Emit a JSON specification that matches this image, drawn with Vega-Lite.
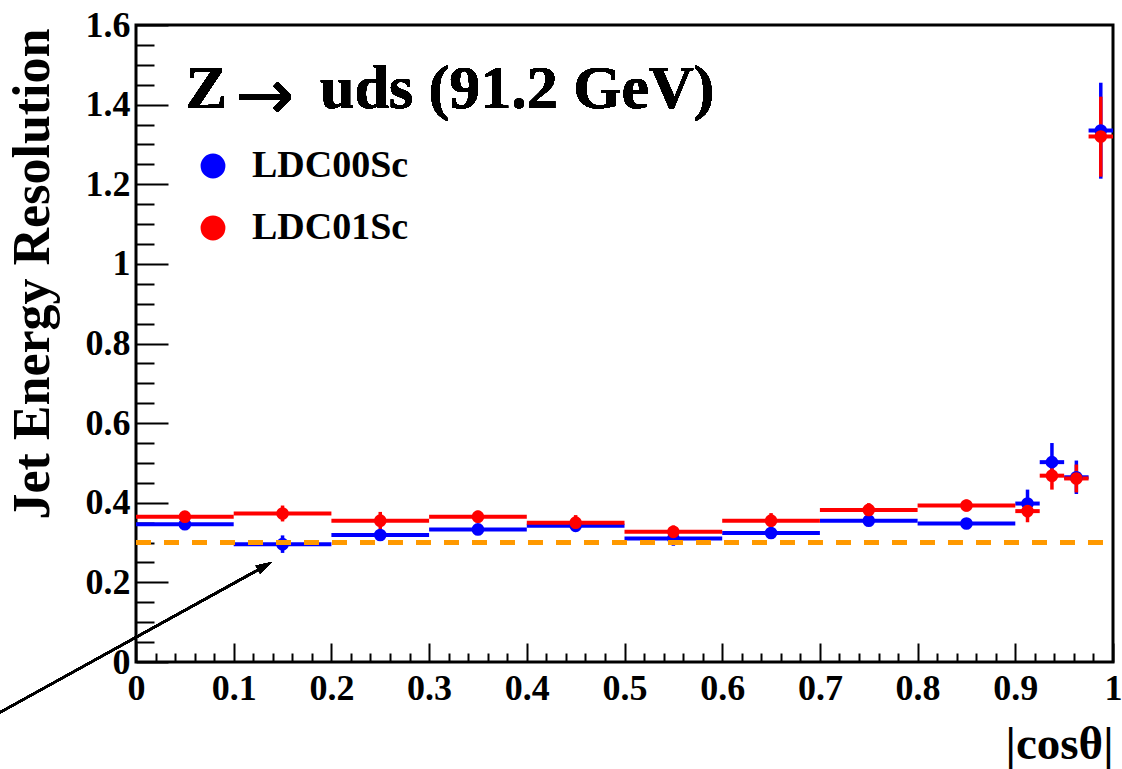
{
  "$schema": "https://vega.github.io/schema/vega-lite/v6.json",
  "width": 977,
  "height": 637,
  "autosize": "none",
  "padding": {"left": 136, "top": 25, "right": 9, "bottom": 107},
  "background": "white",
  "config": {
    "view": {"stroke": "black", "strokeWidth": 3},
    "font": "Liberation Serif",
    "legend": {"orient": "none", "legendX": 58, "legendY": 122, "title": null, "padding": 0, "symbolType": "circle", "symbolSize": 616, "symbolStrokeWidth": 0, "symbolOpacity": 1,
      "labelFont": "Liberation Serif", "labelFontWeight": "bold", "labelFontSize": 38, "labelColor": "black", "labelOffset": 20, "rowPadding": 24, "labelLimit": 400}
  },
  "data": {
    "values": [
      {"s": "LDC00Sc", "xc": 0.05, "xlo": 0.0, "xhi": 0.1, "y": 0.346, "ylo": 0.336, "yhi": 0.356},
      {"s": "LDC00Sc", "xc": 0.15, "xlo": 0.1, "xhi": 0.2, "y": 0.296, "ylo": 0.274, "yhi": 0.318},
      {"s": "LDC00Sc", "xc": 0.25, "xlo": 0.2, "xhi": 0.3, "y": 0.319, "ylo": 0.306, "yhi": 0.332},
      {"s": "LDC00Sc", "xc": 0.35, "xlo": 0.3, "xhi": 0.4, "y": 0.333, "ylo": 0.32, "yhi": 0.346},
      {"s": "LDC00Sc", "xc": 0.45, "xlo": 0.4, "xhi": 0.5, "y": 0.342, "ylo": 0.33, "yhi": 0.354},
      {"s": "LDC00Sc", "xc": 0.55, "xlo": 0.5, "xhi": 0.6, "y": 0.31, "ylo": 0.292, "yhi": 0.328},
      {"s": "LDC00Sc", "xc": 0.65, "xlo": 0.6, "xhi": 0.7, "y": 0.324, "ylo": 0.312, "yhi": 0.336},
      {"s": "LDC00Sc", "xc": 0.75, "xlo": 0.7, "xhi": 0.8, "y": 0.355, "ylo": 0.343, "yhi": 0.367},
      {"s": "LDC00Sc", "xc": 0.85, "xlo": 0.8, "xhi": 0.9, "y": 0.348, "ylo": 0.336, "yhi": 0.36},
      {"s": "LDC00Sc", "xc": 0.9125, "xlo": 0.9, "xhi": 0.925, "y": 0.398, "ylo": 0.363, "yhi": 0.433},
      {"s": "LDC00Sc", "xc": 0.9375, "xlo": 0.925, "xhi": 0.95, "y": 0.502, "ylo": 0.454, "yhi": 0.55},
      {"s": "LDC00Sc", "xc": 0.9625, "xlo": 0.95, "xhi": 0.975, "y": 0.464, "ylo": 0.422, "yhi": 0.506},
      {"s": "LDC00Sc", "xc": 0.9875, "xlo": 0.975, "xhi": 1.0, "y": 1.335, "ylo": 1.214, "yhi": 1.455},
      {"s": "LDC01Sc", "xc": 0.05, "xlo": 0.0, "xhi": 0.1, "y": 0.365, "ylo": 0.352, "yhi": 0.378},
      {"s": "LDC01Sc", "xc": 0.15, "xlo": 0.1, "xhi": 0.2, "y": 0.373, "ylo": 0.353, "yhi": 0.393},
      {"s": "LDC01Sc", "xc": 0.25, "xlo": 0.2, "xhi": 0.3, "y": 0.355, "ylo": 0.333, "yhi": 0.377},
      {"s": "LDC01Sc", "xc": 0.35, "xlo": 0.3, "xhi": 0.4, "y": 0.365, "ylo": 0.35, "yhi": 0.38},
      {"s": "LDC01Sc", "xc": 0.45, "xlo": 0.4, "xhi": 0.5, "y": 0.35, "ylo": 0.331, "yhi": 0.369},
      {"s": "LDC01Sc", "xc": 0.55, "xlo": 0.5, "xhi": 0.6, "y": 0.327, "ylo": 0.311, "yhi": 0.343},
      {"s": "LDC01Sc", "xc": 0.65, "xlo": 0.6, "xhi": 0.7, "y": 0.355, "ylo": 0.336, "yhi": 0.374},
      {"s": "LDC01Sc", "xc": 0.75, "xlo": 0.7, "xhi": 0.8, "y": 0.382, "ylo": 0.365, "yhi": 0.399},
      {"s": "LDC01Sc", "xc": 0.85, "xlo": 0.8, "xhi": 0.9, "y": 0.393, "ylo": 0.378, "yhi": 0.408},
      {"s": "LDC01Sc", "xc": 0.9125, "xlo": 0.9, "xhi": 0.925, "y": 0.379, "ylo": 0.351, "yhi": 0.407},
      {"s": "LDC01Sc", "xc": 0.9375, "xlo": 0.925, "xhi": 0.95, "y": 0.468, "ylo": 0.433, "yhi": 0.503},
      {"s": "LDC01Sc", "xc": 0.9625, "xlo": 0.95, "xhi": 0.975, "y": 0.461, "ylo": 0.426, "yhi": 0.496},
      {"s": "LDC01Sc", "xc": 0.9875, "xlo": 0.975, "xhi": 1.0, "y": 1.32, "ylo": 1.219, "yhi": 1.42}
    ]
  },
  "resolve": {"axis": {"x": "independent", "y": "independent"}},
  "layer": [
    {
      "mark": {"type": "rule", "strokeWidth": 4},
      "encoding": {
        "x": {"field": "xlo", "type": "quantitative", "scale": {"domain": [0, 1], "nice": false, "zero": false},
          "axis": {"orient": "bottom", "values": [0, 0.1, 0.2, 0.3, 0.4, 0.5, 0.6, 0.7, 0.8, 0.9, 1], "format": "~f", "ticks": false, "domain": false, "grid": false,
            "labelPadding": 9, "labelFont": "Liberation Serif", "labelFontWeight": "bold", "labelFontSize": 36, "labelColor": "black", "labelFlush": false, "labelOverlap": false,
            "title": "|cosθ|", "titleFont": "Liberation Serif", "titleFontWeight": "bold", "titleFontSize": 47, "titleColor": "black", "titleX": 977, "titleY": 96, "titleAlign": "right", "titleBaseline": "alphabetic", "titleAnchor": "end"}},
        "x2": {"field": "xhi"},
        "y": {"field": "y", "type": "quantitative", "scale": {"domain": [0, 1.6], "nice": false, "zero": false},
          "axis": {"orient": "left", "values": [0, 0.2, 0.4, 0.6, 0.8, 1, 1.2, 1.4, 1.6], "format": "~f", "ticks": false, "domain": false, "grid": false,
            "labelPadding": 6, "labelFont": "Liberation Serif", "labelFontWeight": "bold", "labelFontSize": 36, "labelColor": "black", "labelFlush": false, "labelOverlap": false,
            "title": "Jet Energy Resolution", "titleFont": "Liberation Serif", "titleFontWeight": "bold", "titleFontSize": 52, "titleColor": "black", "titleAngle": -90, "titleX": -88, "titleY": 3, "titleAlign": "right", "titleBaseline": "alphabetic", "titleAnchor": "end"}},
        "color": {"field": "s", "type": "nominal", "scale": {"domain": ["LDC00Sc", "LDC01Sc"], "range": ["#0000ff", "#ff0000"]}}
      }
    },
    {
      "mark": {"type": "rule", "strokeWidth": 3.5},
      "encoding": {
        "x": {"field": "xc", "type": "quantitative", "scale": {"domain": [0, 1], "nice": false, "zero": false},
          "axis": {"orient": "bottom", "values": [0, 0.1, 0.2, 0.3, 0.4, 0.5, 0.6, 0.7, 0.8, 0.9, 1], "labels": false, "domain": false, "grid": false, "ticks": true, "tickSize": -19, "tickWidth": 2, "tickColor": "black", "title": null}},
        "y": {"field": "ylo", "type": "quantitative", "scale": {"domain": [0, 1.6], "nice": false, "zero": false},
          "axis": {"orient": "left", "values": [0, 0.2, 0.4, 0.6, 0.8, 1, 1.2, 1.4, 1.6], "labels": false, "domain": false, "grid": false, "ticks": true, "tickSize": -32, "tickWidth": 2, "tickColor": "black", "title": null}},
        "y2": {"field": "yhi"},
        "color": {"field": "s", "type": "nominal", "scale": {"domain": ["LDC00Sc", "LDC01Sc"], "range": ["#0000ff", "#ff0000"]}}
      }
    },
    {
      "mark": {"type": "point", "shape": "circle", "filled": true, "size": 160, "opacity": 1},
      "encoding": {
        "x": {"field": "xc", "type": "quantitative", "scale": {"domain": [0, 1], "nice": false, "zero": false},
          "axis": {"orient": "bottom", "values": [0.02, 0.04, 0.06, 0.08, 0.12, 0.14, 0.16, 0.18, 0.22, 0.24, 0.26, 0.28, 0.32, 0.34, 0.36, 0.38, 0.42, 0.44, 0.46, 0.48, 0.52, 0.54, 0.56, 0.58, 0.62, 0.64, 0.66, 0.68, 0.72, 0.74, 0.76, 0.78, 0.82, 0.84, 0.86, 0.88, 0.92, 0.94, 0.96, 0.98], "labels": false, "domain": false, "grid": false, "ticks": true, "tickSize": -9, "tickWidth": 2, "tickColor": "black", "title": null}},
        "y": {"field": "y", "type": "quantitative", "scale": {"domain": [0, 1.6], "nice": false, "zero": false},
          "axis": {"orient": "left", "values": [0.05, 0.1, 0.15, 0.25, 0.3, 0.35, 0.45, 0.5, 0.55, 0.65, 0.7, 0.75, 0.85, 0.9, 0.95, 1.05, 1.1, 1.15, 1.25, 1.3, 1.35, 1.45, 1.5, 1.55], "labels": false, "domain": false, "grid": false, "ticks": true, "tickSize": -18, "tickWidth": 2, "tickColor": "black", "title": null}},
        "color": {"field": "s", "type": "nominal", "scale": {"domain": ["LDC00Sc", "LDC01Sc"], "range": ["#0000ff", "#ff0000"]}}
      }
    },
    {
      "mark": {"type": "rule", "stroke": "#ff9900", "strokeWidth": 4, "strokeDash": [15, 13]},
      "encoding": {
        "x": {"datum": 0, "type": "quantitative", "scale": {"domain": [0, 1], "nice": false, "zero": false}, "axis": null},
        "x2": {"datum": 1},
        "y": {"datum": 0.3, "type": "quantitative", "scale": {"domain": [0, 1.6], "nice": false, "zero": false}, "axis": null}
      }
    },
    {
      "mark": {"type": "rule", "stroke": "black", "strokeWidth": 2},
      "encoding": {
        "x": {"datum": -0.16, "type": "quantitative", "scale": {"domain": [0, 1], "nice": false, "zero": false}, "axis": null},
        "x2": {"datum": 0.125},
        "y": {"datum": -0.155, "type": "quantitative", "scale": {"domain": [0, 1.6], "nice": false, "zero": false}, "axis": null},
        "y2": {"datum": 0.2315}
      }
    },
    {
      "mark": {"type": "point", "shape": "M0,0L0.58,2L-0.58,2Z", "filled": true, "fill": "black", "opacity": 1, "size": 256, "angle": 61},
      "encoding": {
        "x": {"datum": 0.1392, "type": "quantitative", "scale": {"domain": [0, 1], "nice": false, "zero": false}, "axis": null},
        "y": {"datum": 0.2513, "type": "quantitative", "scale": {"domain": [0, 1.6], "nice": false, "zero": false}, "axis": null}
      }
    },
    {
      "mark": {"type": "text", "text": "Z", "font": "Liberation Serif", "fontWeight": "bold", "fontSize": 62, "align": "left", "baseline": "alphabetic", "color": "black"},
      "encoding": {
        "x": {"datum": 0.051, "type": "quantitative", "scale": {"domain": [0, 1], "nice": false, "zero": false}, "axis": null},
        "y": {"datum": 1.392, "type": "quantitative", "scale": {"domain": [0, 1.6], "nice": false, "zero": false}, "axis": null}
      }
    },
    {
      "mark": {"type": "text", "text": "→", "font": "DejaVu Sans", "fontWeight": "normal", "fontSize": 70, "align": "left", "baseline": "alphabetic", "color": "black"},
      "encoding": {
        "x": {"datum": 0.102, "type": "quantitative", "scale": {"domain": [0, 1], "nice": false, "zero": false}, "axis": null},
        "y": {"datum": 1.365, "type": "quantitative", "scale": {"domain": [0, 1.6], "nice": false, "zero": false}, "axis": null}
      }
    },
    {
      "mark": {"type": "text", "text": "uds (91.2 GeV)", "font": "Liberation Serif", "fontWeight": "bold", "fontSize": 62, "align": "left", "baseline": "alphabetic", "color": "black"},
      "encoding": {
        "x": {"datum": 0.1883, "type": "quantitative", "scale": {"domain": [0, 1], "nice": false, "zero": false}, "axis": null},
        "y": {"datum": 1.392, "type": "quantitative", "scale": {"domain": [0, 1.6], "nice": false, "zero": false}, "axis": null}
      }
    }
  ]
}
